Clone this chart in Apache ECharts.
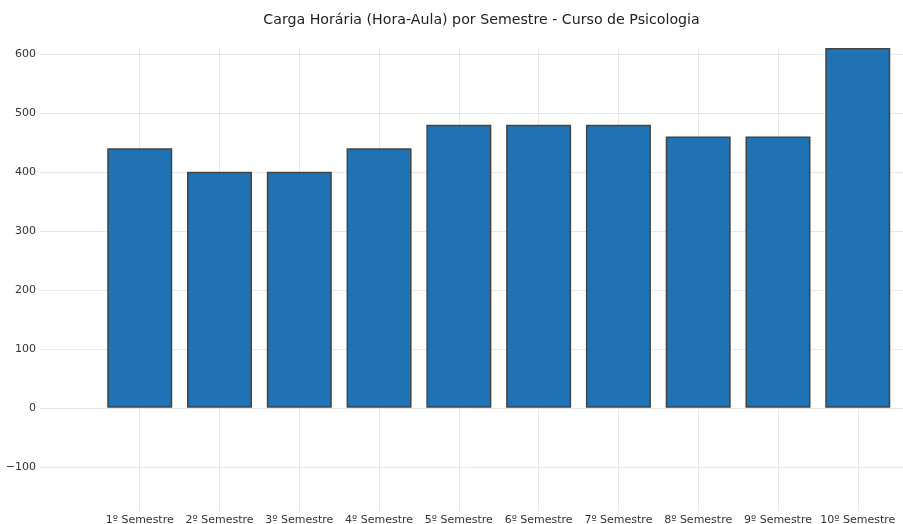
<!DOCTYPE html>
<html><head><meta charset="utf-8">
<script src="https://cdn.jsdelivr.net/npm/echarts@6/dist/echarts.min.js"></script>
<style>html,body{margin:0;padding:0;background:#fff}#c{width:903px;height:524px}</style>
</head><body><div id="c"></div>
<script>
const categories = ['1º Semestre','2º Semestre','3º Semestre','4º Semestre','5º Semestre','6º Semestre','7º Semestre','8º Semestre','9º Semestre','10º Semestre'];
const hours = [440, 400, 400, 440, 480, 480, 480, 460, 460, 610];
const yTicks = [-100, 0, 100, 200, 300, 400, 500, 600];
const titleText = 'Carga Horária (Hora-Aula) por Semestre - Curso de Psicologia';

const font = 'DejaVu Sans';
const idx = categories.map((c, i) => i);
const chart = echarts.init(document.getElementById('c'), null, {renderer: 'canvas'});
chart.setOption({
  animation: false,
  title: {text: titleText, left: 476.5, textAlign: 'center', top: 8,
    textStyle: {fontFamily: font, fontSize: 14.2, fontWeight: 'normal', color: '#222'}},
  grid: {left: 40, top: 48, right: 0, height: 463, containLabel: false, outerBoundsMode: 'none'},
  xAxis: {type: 'value', min: -1.25, max: 9.567,
    axisLine: {show: false},
    axisTick: {show: false, customValues: idx},
    axisLabel: {customValues: idx, formatter: v => categories[Math.round(v)] || '',
      fontFamily: font, fontSize: 11, color: '#333', margin: 4},
    splitLine: {show: true, lineStyle: {color: '#e8e8e8', width: 1}}},
  yAxis: {type: 'value', min: -175, max: 610,
    axisLine: {show: false},
    axisTick: {show: false, customValues: yTicks},
    axisLabel: {customValues: yTicks, formatter: v => v < 0 ? '\u2212' + Math.abs(v) : String(v),
      fontFamily: font, fontSize: 11, color: '#333', margin: 4},
    splitLine: {show: true, lineStyle: {color: '#e8e8e8', width: 1}}},
  series: [{type: 'bar', data: hours.map((v, i) => [i, v]), barWidth: 65,
    itemStyle: {color: '#1f72b4', borderColor: '#444', borderWidth: 1.5}}]
});
</script></body></html>
